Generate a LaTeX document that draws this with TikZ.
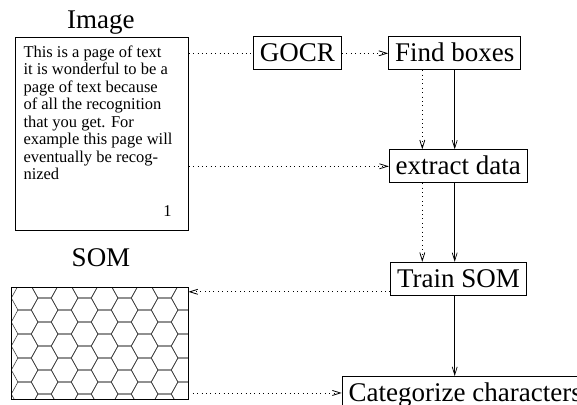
\documentclass[tikz,border=0pt]{standalone}
\usepackage{fontspec}
\setmainfont{Liberation Serif}
\usetikzlibrary{arrows.meta}
\tikzset{
  stepbox/.style={draw, line width=0.9pt, font=\fontsize{27}{31}\selectfont,
                  inner xsep=6.5pt, inner ysep=6pt, text height=19pt, text depth=2pt},
  heading/.style={font=\fontsize{27}{31}\selectfont, anchor=base, inner sep=0pt},
  panel/.style={draw, line width=0.9pt, inner sep=0pt},
  pagefont/.style={font=\fontsize{16.5}{17.47}\selectfont, inner sep=0pt},
  dotline/.style={line width=0.8pt, dash pattern=on 0.8pt off 3.6pt},
  dotarrow/.style={dotline, -{Straight Barb[length=8pt,width=5pt]}},
  solidarrow/.style={line width=0.7pt, -{Straight Barb[length=8pt,width=5pt]}},
  hexline/.style={line width=0.6pt, black!75},
}

\begin{document}
\begin{tikzpicture}[x=1pt, y=-1pt]
            \useasboundingbox                      (  0.0,  0.0) rectangle (577.0,404.0);
            \clip                                  (  0.0,  0.0) rectangle (577.0,404.0);
            % the page and the map
            \node[heading]                (imgtitle) at (100.8, 28.3) {Image};
            \node[panel, minimum width=173.3pt, minimum height=193pt] (page) at (101.6,133.5) {};
            \node[pagefont, anchor=north west, align=left] (pagetext) at ( 23.3, 45.5)
                 {This is a page of text\\ it is wonderful to be a\\ page of text because\\ of all the recognition\\
                  that you get. For\\ example this page will\\ eventually be recog-\\ nized};
            \node[pagefont, anchor=base]  (pagenum)  at (167.5,216.7) {1};
            \node[heading]                (somtitle) at (101.0,266.7) {SOM};
            \begin{scope}
              \clip                                ( 11.0,287.0) rectangle (188.0,399.0);
              \foreach \j in {0,...,8}
                \foreach \k in {-1,...,5} {
                  \pgfmathsetmacro\cx{24.6+20*\j}
                  \pgfmathsetmacro\cy{298+24*\k+12*mod(\j,2)}
                  \draw[hexline] (\cx-13.3,\cy) -- (\cx-6.65,\cy-12) -- (\cx+6.65,\cy-12)
                              -- (\cx+13.3,\cy) -- (\cx+6.65,\cy+12) -- (\cx-6.65,\cy+12) -- cycle;
                }
            \end{scope}
            \node[panel, minimum width=177pt, minimum height=112pt] (som) at ( 99.5,343.0) {};
            % the steps
            \node[stepbox]                (gocr)     at (297.5, 53.3) {GOCR};
            \node[stepbox]                (find)     at (454.7, 53.3) {Find boxes};
            \node[stepbox]                (extract)  at (458.3,166.3) {extract data};
            \node[stepbox]                (train)    at (458.5,278.8) {Train SOM};
            \node[stepbox, anchor=north west] (categ) at (341.7,376.0) {Categorize characters};
            \coordinate (dotcol) at ([xshift=-32.4pt]find.south);
            \coordinate (somin)  at ([yshift=-13pt]train.west);
            % connectors
            \draw[dotline]    (page.east |- gocr.west)    -- (gocr.west);
            \draw[dotarrow]   (gocr.east)                 -- (find.west);
            \draw[dotarrow]   (page.east |- extract.west) -- (extract.west);
            \draw[solidarrow] (find.south)                -- (find.south |- extract.north);
            \draw[dotarrow]   (dotcol)                    -- (dotcol |- extract.north);
            \draw[solidarrow] (find.south |- extract.south) -- (find.south |- train.north);
            \draw[dotarrow]   (dotcol |- extract.south)   -- (dotcol |- train.north);
            \draw[dotarrow]   (somin)                     -- (somin -| som.east);
            \draw[solidarrow] (find.south |- train.south) -- (find.south |- categ.north);
            \draw[dotarrow]   (som.east |- categ.west)    -- (categ.west);
\end{tikzpicture}
\end{document}
